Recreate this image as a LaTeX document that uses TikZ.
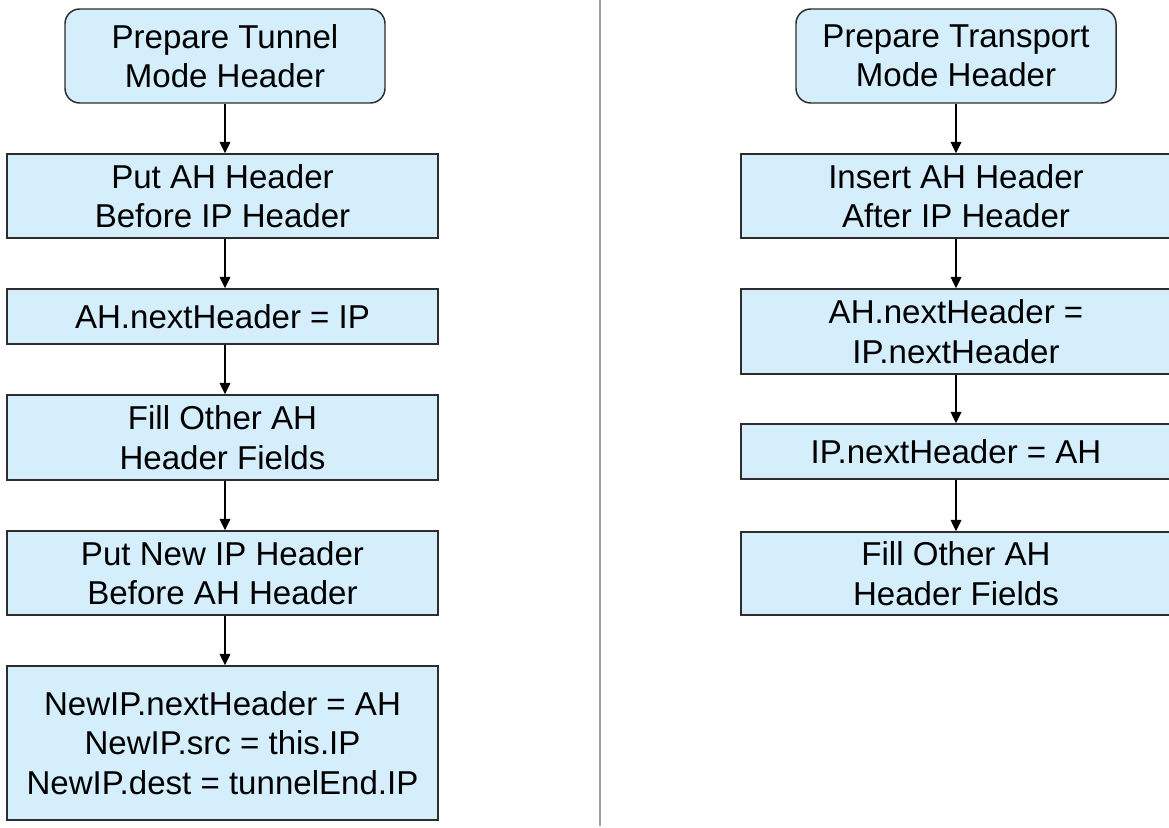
\documentclass[tikz,border=0pt]{standalone}
\usepackage{fontspec}
\setmainfont{Liberation Sans}
\usetikzlibrary{arrows.meta}
\definecolor{boxfill}{RGB}{212,238,252}
\definecolor{boxline}{RGB}{45,45,45}
\definecolor{divider}{RGB}{160,160,160}
\tikzset{
  stepbox/.style={draw=boxline, fill=boxfill, line width=1.1pt, align=center,
    inner sep=0pt, font=\fontsize{24.8}{29.6}\selectfont},
  startbox/.style={stepbox, rounded corners=11pt},
  arr/.style={draw=black, line width=1pt, -{Triangle[length=8.5pt,width=8pt]}}
}
\begin{document}
\begin{tikzpicture}[x=0.75pt,y=-0.75pt]
\useasboundingbox (0,0) rectangle (1169,827);
\clip (0,0) rectangle (1169,827);
% divider
\draw[divider, line width=1.1pt] (600,0) -- (600,826);
% left column
\node[startbox, minimum width=240pt, minimum height=70.5pt] (t1) at (225,56) {Prepare Tunnel\\Mode Header};
\node[stepbox, minimum width=323.25pt, minimum height=63pt] (l2) at (222.5,196) {Put AH Header\\Before IP Header};
\node[stepbox, minimum width=323.25pt, minimum height=41.25pt] (l3) at (222.5,316.5) {AH.nextHeader = IP};
\node[stepbox, minimum width=323.25pt, minimum height=63.75pt] (l4) at (222.5,437.5) {Fill Other AH\\Header Fields};
\node[stepbox, minimum width=323.25pt, minimum height=63pt] (l5) at (222.5,573) {Put New IP Header\\Before AH Header};
\node[stepbox, minimum width=323.25pt, minimum height=115.5pt] (l6) at (222.5,743) {NewIP.nextHeader = AH\\NewIP.src = this.IP\\NewIP.dest = tunnelEnd.IP};
\draw[arr] (t1.south) -- (t1.south |- l2.north);
\draw[arr] (l2.south -| t1) -- (l3.north -| t1);
\draw[arr] (l3.south -| t1) -- (l4.north -| t1);
\draw[arr] (l4.south -| t1) -- (l5.north -| t1);
\draw[arr] (l5.south -| t1) -- (l6.north -| t1);
% right column
\node[startbox, minimum width=240pt, minimum height=70.5pt] (r1) at (956,56) {Prepare Transport\\Mode Header};
\node[stepbox, minimum width=322.5pt, minimum height=63pt] (r2) at (956,196) {Insert AH Header\\After IP Header};
\node[stepbox, minimum width=322.5pt, minimum height=63.75pt] (r3) at (956,331.5) {AH.nextHeader =\\IP.nextHeader};
\node[stepbox, minimum width=322.5pt, minimum height=41.25pt] (r4) at (956,451.5) {IP.nextHeader = AH};
\node[stepbox, minimum width=322.5pt, minimum height=62.25pt] (r5) at (956,573.5) {Fill Other AH\\Header Fields};
\draw[arr] (r1.south) -- (r1.south |- r2.north);
\draw[arr] (r2.south -| r1) -- (r3.north -| r1);
\draw[arr] (r3.south -| r1) -- (r4.north -| r1);
\draw[arr] (r4.south -| r1) -- (r5.north -| r1);
\end{tikzpicture}
\end{document}
